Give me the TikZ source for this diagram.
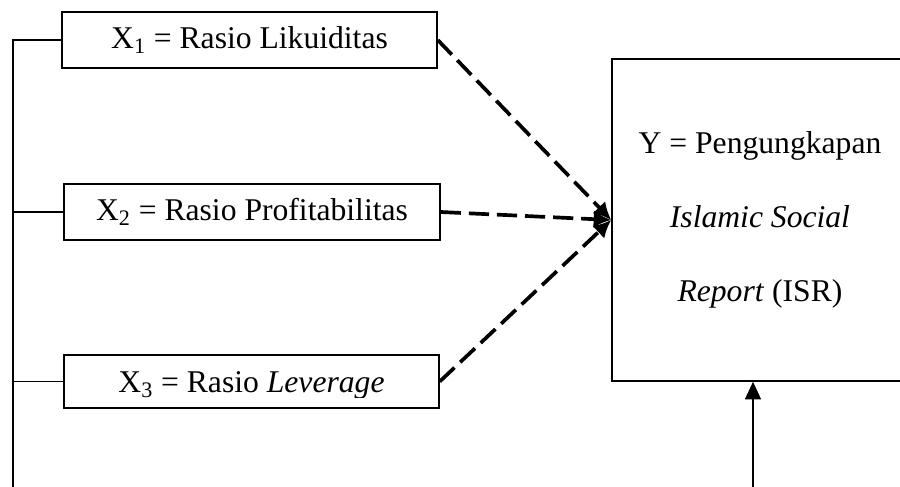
\documentclass[tikz,border=0pt]{standalone}
\usepackage{fontspec}
\setmainfont{Liberation Serif}
\usetikzlibrary{arrows.meta, positioning}

\tikzset{
  varbox/.style={draw, line width=0.85pt, minimum width=7.5cm, minimum height=1.12cm, inner sep=0pt},
  infl/.style={dashed, dash pattern=on 11.5pt off 4.5pt, line width=2.1pt, -{Latex[length=10pt,width=10pt]}},
}

\begin{document}
\begin{tikzpicture}[font=\fontsize{18}{22}\selectfont]
		\useasboundingbox (0,0) rectangle (18,9.72);
		% variabel independen
		\node[varbox] (x1) at (4.99,8.92) {X\textsubscript{1} = Rasio Likuiditas};
		\node[varbox, minimum width=7.52cm] (x2) at (5.04,5.48) {X\textsubscript{2} = Rasio Profitabilitas};
		\node[varbox, minimum height=1.06cm] (x3) at (5.03,2.09) {};
		\begin{scope}
			\clip (x3.north west) rectangle ([yshift=0.22cm]x3.south east);
			\node (x3txt) at ([yshift=-0.08cm]x3.center) {X\textsubscript{3} = Rasio \textit{Leverage}};
		\end{scope}
		% variabel dependen
		\node[draw, line width=0.85pt, minimum width=5.92cm, minimum height=6.44cm, align=center, font=\fontsize{18}{42}\selectfont] (y) at (15.2,5.32) {Y = Pengungkapan\\ \textit{Islamic Social}\\ \textit{Report} (ISR)};
		\draw[infl] (x1.east) to (y.west);
		\draw[infl] (x2.east) to (y.west);
		\draw[infl] (x3.east) to (y.west);
		% garis kiri
		\coordinate (bus) at (0.26,-0.1);
		\draw[line width=0.85pt] (x1.west) -| (bus);
		\draw[line width=0.85pt] (x2.west) to (x2.west -| bus);
		\draw[line width=0.85pt] (x3.west) to (x3.west -| bus);
		% panah bawah
		\coordinate (ybase) at (15.06,-0.1);
		\draw[line width=1.1pt, -{Triangle[length=10pt,width=9pt]}] (ybase) to (ybase |- y.south);
	\end{tikzpicture}
\end{document}
